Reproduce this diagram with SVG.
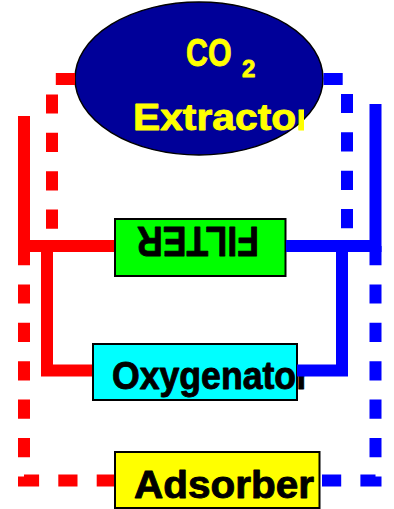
<svg xmlns="http://www.w3.org/2000/svg" width="394" height="509" viewBox="0 0 394 509">
  <style>
    .lbl { font-family: "Liberation Sans", Arial, sans-serif; font-weight: bold; stroke-width: 0.9; stroke-linejoin: round; }
    .ylw { fill: #ffff00; stroke: #ffff00; }
    .blk { fill: #000; stroke: #000; }
    .box { stroke: #000; stroke-width: 2; }
    .red { stroke: #ff0000; stroke-width: 12; fill: none; stroke-linejoin: miter; stroke-linecap: butt; }
    .blue { stroke: #0000ff; stroke-width: 12; fill: none; stroke-linejoin: miter; stroke-linecap: butt; }
    .dash { stroke-dasharray: 19.2 19.2; }
  </style>
  <defs>
    <clipPath id="clipExtr">
      <rect x="0" y="0" width="304" height="509"/>
    </clipPath>
  </defs>
  <rect width="394" height="509" fill="#fff"/>

  <g id="co2-extractor">
    <ellipse cx="199" cy="78.5" rx="124" ry="76.5" fill="#000099" stroke="#000" stroke-width="1.5"/>
    <text class="lbl ylw" x="0" y="0" font-size="39" transform="translate(186 65.5) scale(0.78 1)">CO</text>
    <text class="lbl ylw" x="242" y="77" font-size="24">2</text>
    <text class="lbl ylw" x="133" y="130" font-size="37" textLength="179" lengthAdjust="spacingAndGlyphs" clip-path="url(#clipExtr)">Extractor</text>
  </g>

  <g id="filter">
    <rect class="box" x="115" y="219" width="170.5" height="57" fill="#00ff00"/>
    <text class="lbl blk" x="137" y="257" font-size="42" textLength="122" lengthAdjust="spacingAndGlyphs" transform="rotate(180 198 242)">FILTER</text>
  </g>

  <g id="oxygenator">
    <rect class="box" x="93" y="344" width="204" height="56" fill="#00ffff"/>
    <text class="lbl blk" x="112" y="389" font-size="38" textLength="198" lengthAdjust="spacingAndGlyphs">Oxygenator</text>
  </g>

  <g id="adsorber">
    <rect class="box" x="115" y="452" width="204.5" height="56" fill="#ffff00"/>
    <text class="lbl blk" x="134" y="498" font-size="39" textLength="180" lengthAdjust="spacingAndGlyphs">Adsorber</text>
  </g>

  <g id="connectors">
    <path class="red" d="M24,116 V246 H114"/>
    <path class="red" d="M47,246 V370.5 H92"/>
    <path class="red dash" d="M75,79 H52 V246"/>
    <path class="red dash" d="M24,246 V480.5 H114"/>
    <path class="blue" d="M375.5,104 V246 H286"/>
    <path class="blue" d="M342,246 V370.5 H297"/>
    <path class="blue dash" d="M323.5,79 H347 V246"/>
    <path class="blue dash" d="M375.5,246 V480.5 H320"/>
  </g>
</svg>
